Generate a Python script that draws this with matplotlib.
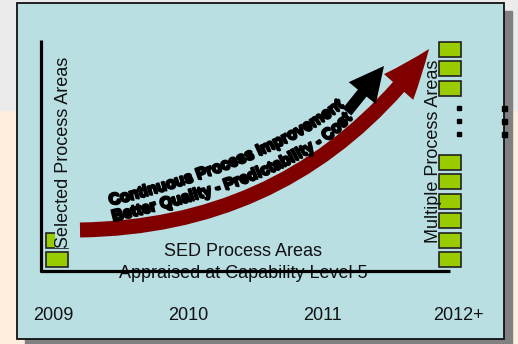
import numpy as np
import matplotlib.pyplot as plt
from matplotlib.patches import Rectangle, FancyArrowPatch
from matplotlib.font_manager import FontProperties
import matplotlib.patheffects as pe

# chart content
years = ['2009', '2010', '2011', '2012+']
left_label = 'Selected Process Areas'
right_label = 'Multiple Process Areas'
bottom_label = ['SED Process Areas', 'Appraised at Capability Level 5']
arrow_text = ['Continuous Process Improvement', 'Better Quality - Predictability - Cost']
n_selected = 2        # squares at 2009
n_multiple_top = 3    # squares above the dots at 2012+
n_multiple_low = 6    # squares below the dots at 2012+

BG_BLUE = '#b9dfe3'
GREEN = '#99cc00'
DARKRED = '#800000'

plt.rcParams['font.family'] = ['Liberation Sans', 'DejaVu Sans']

fig = plt.figure(figsize=(5.18, 3.44), dpi=100)
fig.patch.set_facecolor('#fdeedd')
ax = fig.add_axes([0, 0, 1, 1])
ax.set_xlim(0, 518)
ax.set_ylim(344, 0)
ax.axis('off')

# page background: grey band at top
ax.add_patch(Rectangle((0, 0), 518, 110, color='#ebebeb', zorder=0))
# box shadow + box
ax.add_patch(Rectangle((25, 11), 487, 333, color='#808080', zorder=1))
ax.add_patch(Rectangle((17, 3), 487, 336, facecolor=BG_BLUE, edgecolor='#111111', lw=1.3, zorder=2))

# axes lines
ax.plot([41, 41], [40, 272], color='black', lw=2.3, solid_capstyle='butt', zorder=3)
ax.plot([40, 450], [271, 271], color='black', lw=2.3, solid_capstyle='butt', zorder=3)

# squares
sq_w, sq_h, step = 22, 15, 19.4
bottom = 267
for i in range(n_selected):
    ax.add_patch(Rectangle((46, bottom - sq_h - i * step), sq_w, sq_h, facecolor=GREEN,
                           edgecolor='#222222', lw=1.2, zorder=3))
for i in range(n_multiple_low):
    ax.add_patch(Rectangle((439, bottom - sq_h - i * step), sq_w, sq_h, facecolor=GREEN,
                           edgecolor='#222222', lw=1.2, zorder=3))
for i in range(n_multiple_top):
    ax.add_patch(Rectangle((439, 42 + i * step), sq_w, sq_h, facecolor=GREEN,
                           edgecolor='#222222', lw=1.2, zorder=3))

# ellipsis dots
for yy in [108, 121, 134]:
    ax.add_patch(Rectangle((457, yy - 2), 4, 4, color='black', zorder=3))
    ax.add_patch(Rectangle((501.5, yy - 2.5), 5, 5, color='black', zorder=3))

# arrows
red = FancyArrowPatch((80, 230), (429, 49), connectionstyle='arc3,rad=0.25',
                      arrowstyle='simple,head_width=28,head_length=35,tail_width=10.8',
                      mutation_scale=1, shrinkA=0, shrinkB=0,
                      facecolor=DARKRED, edgecolor='none', zorder=4)
ax.add_patch(red)
blk = FancyArrowPatch((347, 112), (384, 66),
                      arrowstyle='simple,head_width=25,head_length=25,tail_width=8',
                      mutation_scale=1, shrinkA=0, shrinkB=0,
                      facecolor='black', edgecolor='none', zorder=4)
ax.add_patch(blk)

# texts
ax.text(63, 152, left_label, rotation=90, ha='center', va='center', fontsize=13,
        color='#111111', zorder=5,
        bbox=dict(facecolor=BG_BLUE, edgecolor='none', pad=0))
ax.text(433, 151, right_label, rotation=90, ha='center', va='center', fontsize=13,
        color='#111111', zorder=5)
ax.text(243, 251, bottom_label[0], ha='center', va='center', fontsize=13, color='#111111', zorder=5)
ax.text(243, 274, bottom_label[1], ha='center', va='center', fontsize=13, color='#111111', zorder=2.5)

year_x = np.linspace(53, 458, len(years))
for x, lab in zip(year_x, years):
    ax.text(x, 315, lab, ha='center', va='center', fontsize=13, color='#111111', zorder=5)


# curved "word art" text along a cubic bezier baseline (pixel coords, y down)
def bezier(p, t):
    p = np.asarray(p, float)
    t = t[:, None]
    return ((1 - t) ** 3 * p[0] + 3 * (1 - t) ** 2 * t * p[1]
            + 3 * (1 - t) * t ** 2 * p[2] + t ** 3 * p[3])


renderer = fig.canvas.get_renderer()
effects = [pe.withSimplePatchShadow(offset=(1, -1), shadow_rgbFace='black', alpha=1),
           pe.withStroke(linewidth=1.5, foreground='black')]


def curved_text(s, ctrl):
    t = np.linspace(0, 1, 400)
    pts = bezier(ctrl, t)
    seg = np.hypot(*np.diff(pts, axis=0).T)
    arc = np.concatenate([[0], np.cumsum(seg)])
    fp = FontProperties(family='Liberation Sans', weight='bold', size=10)
    # advance of every prefix, in pixels at size 10
    pos = np.array([renderer.get_text_width_height_descent(s[:i] + '|', fp, ismath=False)[0]
                    for i in range(len(s) + 1)])
    bar = renderer.get_text_width_height_descent('|', fp, ismath=False)[0]
    pos = pos - bar
    scale = arc[-1] / pos[-1]
    size = 10 * scale
    pos_px = pos * scale
    for i, ch in enumerate(s):
        if ch == ' ':
            continue
        s0 = pos_px[i]
        smid = 0.5 * (pos_px[i] + pos_px[i + 1])
        x = np.interp(s0, arc, pts[:, 0])
        y = np.interp(s0, arc, pts[:, 1])
        k = min(np.searchsorted(arc, smid), len(arc) - 2)
        dx, dy = pts[k + 1] - pts[k]
        ang = np.degrees(np.arctan2(-dy, dx))
        ax.text(x, y, ch, rotation=ang, rotation_mode='anchor', ha='left', va='baseline',
                fontsize=size, fontweight='bold', color='black', zorder=6,
                path_effects=effects)


curved_text(arrow_text[0], [(110, 205), (190, 186), (290, 150), (344, 106)])
curved_text(arrow_text[1], [(113, 221), (200, 200), (305, 172), (352, 118)])

fig.savefig('out.png', dpi=100)
